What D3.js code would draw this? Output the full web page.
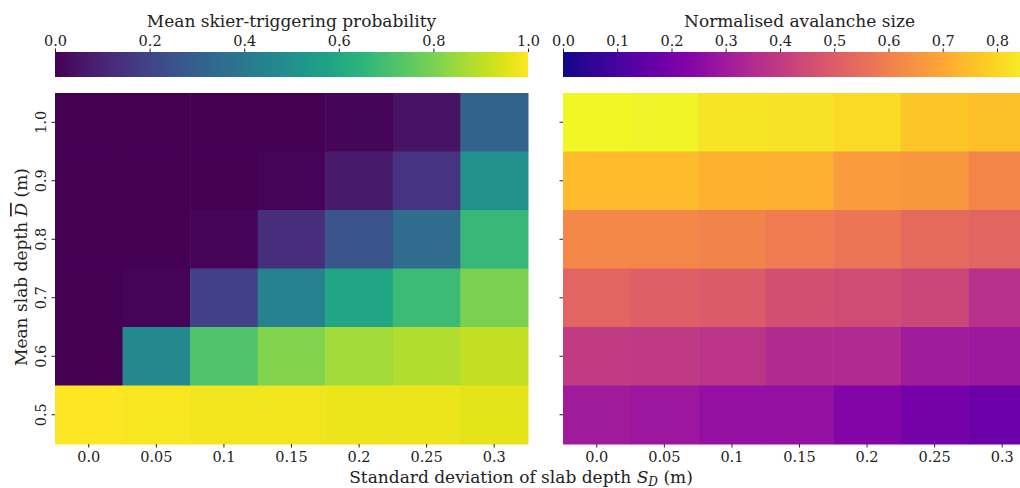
<!DOCTYPE html>
<html><head><meta charset="utf-8">
<script src="https://cdn.jsdelivr.net/npm/d3@7"></script>
<style>body{margin:0;background:#fff}svg{display:block}text{font-family:"DejaVu Serif",serif;fill:#222}</style>
</head><body><svg id="c" width="1020" height="488"></svg>
<script>
const sdLabels = ["0.0","0.05","0.1","0.15","0.2","0.25","0.3"];
const depthLabels = ["1.0","0.9","0.8","0.7","0.6","0.5"];
const probTicks = [0,0.2,0.4,0.6,0.8,1.0];
const sizeTicks = [0,0.1,0.2,0.3,0.4,0.5,0.6,0.7,0.8];
const probMax = 1.0;
const sizeMax = 0.872;
// rows top (D=1.0) to bottom (D=0.5)
const probRow10 = [0.0,0.0,0.0,0.0,0.015,0.05,0.31];
const probRow09 = [0.0,0.0,0.0,0.01,0.07,0.15,0.50];
const probRow08 = [0.0,0.0,0.01,0.13,0.26,0.35,0.67];
const probRow07 = [0.0,0.01,0.19,0.44,0.59,0.68,0.80];
const probRow06 = [0.0,0.47,0.72,0.81,0.86,0.88,0.91];
const probRow05 = [1.0,0.99,0.98,0.98,0.97,0.97,0.96];
const sizeRow10 = [0.868,0.86,0.83,0.825,0.81,0.765,0.755];
const sizeRow09 = [0.745,0.745,0.725,0.72,0.67,0.66,0.615];
const sizeRow08 = [0.62,0.62,0.61,0.59,0.57,0.54,0.525];
const sizeRow07 = [0.525,0.51,0.50,0.46,0.45,0.435,0.37];
const sizeRow06 = [0.40,0.395,0.38,0.35,0.345,0.30,0.295];
const sizeRow05 = [0.30,0.29,0.27,0.27,0.23,0.20,0.18];
const probRows = [probRow10,probRow09,probRow08,probRow07,probRow06,probRow05];
const sizeRows = [sizeRow10,sizeRow09,sizeRow08,sizeRow07,sizeRow06,sizeRow05];

const svg = d3.select("#c");
const plotTop = 93, plotBottom = 444;
const tickFont = 14.5, labelFont = 17;
const panels = [
  {x0:55, x1:528, rows:probRows, max:probMax, interp:d3.interpolateViridis, ticks:probTicks, title:"Mean skier-triggering probability", ylabels:true, id:"g1"},
  {x0:563, x1:1036, rows:sizeRows, max:sizeMax, interp:d3.interpolatePlasma, ticks:sizeTicks, title:"Normalised avalanche size", ylabels:false, id:"g2"}
];
const defs = svg.append("defs");
panels.forEach(p => {
  const x = d3.scaleBand().domain(sdLabels).range([p.x0,p.x1]);
  const y = d3.scaleBand().domain(depthLabels).range([plotTop,plotBottom]);
  const color = d3.scaleSequential(p.interp).domain([0,p.max]);
  const cells = [];
  p.rows.forEach((r,i)=>r.forEach((v,j)=>cells.push({d:depthLabels[i], s:sdLabels[j], v})));
  svg.append("g").selectAll("rect").data(cells).join("rect")
    .attr("x",d=>x(d.s)).attr("y",d=>y(d.d))
    .attr("width",x.bandwidth()+0.5).attr("height",y.bandwidth()+0.5)
    .attr("fill",d=>color(d.v));
  // x axis
  const xa = svg.append("g").attr("transform",`translate(0,${plotBottom})`)
    .call(d3.axisBottom(x).tickSize(3.5).tickPadding(4));
  xa.select(".domain").remove();
  xa.selectAll("text").attr("font-size",tickFont).attr("font-family","DejaVu Serif").attr("fill","#222");
  xa.selectAll("line").attr("stroke","#222");
  // y axis
  const ya = svg.append("g").attr("transform",`translate(${p.x0},0)`)
    .call(d3.axisLeft(y).tickSize(3.5).tickPadding(4).tickFormat(p.ylabels ? (d=>d) : ()=>""));
  ya.select(".domain").remove();
  ya.selectAll("line").attr("stroke","#222");
  ya.selectAll(".tick text").attr("font-size",tickFont).attr("font-family","DejaVu Serif").attr("fill","#222")
    .attr("text-anchor","middle").attr("x",null).attr("dy",null).attr("y",0)
    .attr("transform","translate(-9,0) rotate(-90)");
  // colorbar
  const gid = p.id+"grad";
  const grad = defs.append("linearGradient").attr("id",gid).attr("x1","0%").attr("x2","100%");
  d3.range(0,1.0001,0.02).forEach(t=>grad.append("stop").attr("offset",(t*100)+"%").attr("stop-color",p.interp(t)));
  const cx = d3.scaleLinear().domain([0,p.max]).range([p.x0,p.x1]);
  svg.append("rect").attr("x",p.x0).attr("y",52).attr("width",p.x1-p.x0).attr("height",25).attr("fill",`url(#${gid})`);
  const ca = svg.append("g").attr("transform","translate(0,52)")
    .call(d3.axisTop(cx).tickValues(p.ticks).tickFormat(d3.format(".1f")).tickSize(3.5).tickPadding(3));
  ca.select(".domain").remove();
  ca.selectAll("line").attr("stroke","#222");
  ca.selectAll("text").attr("font-size",tickFont).attr("font-family","DejaVu Serif").attr("fill","#222");
  svg.append("text").attr("x",(p.x0+p.x1)/2).attr("y",27).attr("text-anchor","middle")
    .attr("font-size",labelFont).text(p.title);
});
// axis titles
svg.append("text").attr("x",521).attr("y",483).attr("text-anchor","middle").attr("font-size",labelFont)
  .html('Standard deviation of slab depth <tspan font-style="italic">S</tspan><tspan font-style="italic" font-size="12" dy="3">D</tspan><tspan dy="-3"> (m)</tspan>');
svg.append("text").attr("transform","translate(27,267) rotate(-90)").attr("text-anchor","middle").attr("font-size",labelFont)
  .html('Mean slab depth <tspan font-style="italic" text-decoration="overline">D</tspan> (m)');
</script></body></html>
